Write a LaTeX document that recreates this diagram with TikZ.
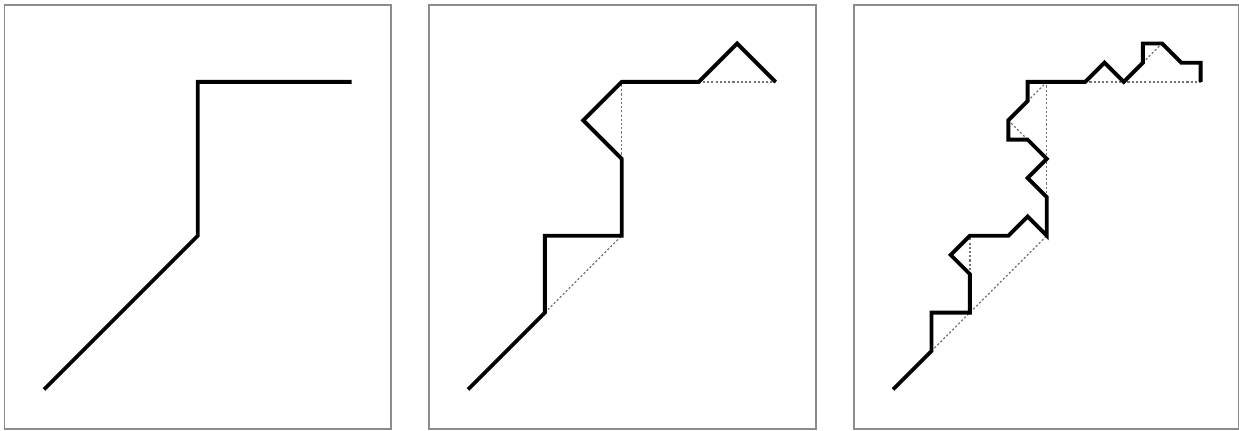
\documentclass[tikz,border=0pt]{standalone}
\begin{document}
\begin{tikzpicture}[
  frame/.style={draw=black!45,line width=0.55pt},
  curve/.style={line width=1.1pt},
  chord/.style={draw=black!55,line width=0.35pt,dash pattern=on 0.6pt off 0.6pt}]
\useasboundingbox (0,0) rectangle (12.39,4.31);
% frames
\draw[frame] (0.045,0.02) rectangle (3.91,4.26);
\draw[frame] (4.293,0.02) rectangle (8.16,4.26);
\draw[frame] (8.543,0.02) rectangle (12.385,4.26);
% stage 1
\begin{scope}[shift={(0.44,0.415)},scale=3.075]
\coordinate (A0) at (0,0);%
\coordinate (A1) at (0.5,0.5);%
\coordinate (A2) at (0.5,1);%
\coordinate (A3) at (1,1);%
\draw[curve] (A0) -- (A1) -- (A2) -- (A3);
\end{scope}
% stage 2
\begin{scope}[shift={(4.68,0.415)},scale=3.075]
\coordinate (B0) at (0,0);%
\coordinate (B1) at (0.25,0.25);%
\coordinate (B2) at (0.25,0.5);%
\coordinate (B3) at (0.5,0.5);%
\coordinate (B4) at (0.5,0.75);%
\coordinate (B5) at (0.375,0.875);%
\coordinate (B6) at (0.5,1);%
\coordinate (B7) at (0.75,1);%
\coordinate (B8) at (0.875,1.125);%
\coordinate (B9) at (1,1);%
% chords
\draw[chord] (B1) -- (B3);
\draw[chord] (B4) -- (B6);
\draw[chord] (B7) -- (B9);
% curve
\draw[curve] (B0) -- (B1) -- (B2) -- (B3) -- (B4) -- (B5) -- (B6)
  -- (B7) -- (B8) -- (B9);
\end{scope}
% stage 3
\begin{scope}[shift={(8.93,0.415)},scale=3.075]
\coordinate (C0)  at (0,0);%
\coordinate (C1)  at (0.125,0.125);%
\coordinate (C2)  at (0.125,0.25);%
\coordinate (C3)  at (0.25,0.25);%
\coordinate (C4)  at (0.25,0.375);%
\coordinate (C5)  at (0.1875,0.4375);%
\coordinate (C6)  at (0.25,0.5);%
\coordinate (C7)  at (0.375,0.5);%
\coordinate (C8)  at (0.4375,0.5625);%
\coordinate (C9)  at (0.5,0.5);%
\coordinate (C10) at (0.5,0.625);%
\coordinate (C11) at (0.4375,0.6875);%
\coordinate (C12) at (0.5,0.75);%
\coordinate (C13) at (0.4375,0.8125);%
\coordinate (C14) at (0.375,0.8125);%
\coordinate (C15) at (0.375,0.875);%
\coordinate (C16) at (0.4375,0.9375);%
\coordinate (C17) at (0.4375,1);%
\coordinate (C18) at (0.5,1);%
\coordinate (C19) at (0.625,1);%
\coordinate (C20) at (0.6875,1.0625);%
\coordinate (C21) at (0.75,1);%
\coordinate (C22) at (0.8125,1.0625);%
\coordinate (C23) at (0.8125,1.125);%
\coordinate (C24) at (0.875,1.125);%
\coordinate (C25) at (0.9375,1.0625);%
\coordinate (C26) at (1,1.0625);%
\coordinate (C27) at (1,1);%
% chords
\draw[chord] (C1)  -- (C9);
\draw[chord] (C4)  -- (C6);
\draw[chord] (C10) -- (C18);
\draw[chord] (C13) -- (C15);
\draw[chord] (C16) -- (C18);
\draw[chord] (C19) -- (C27);
\draw[chord] (C22) -- (C24);
% curve
\draw[curve] (C0) -- (C1) -- (C2) -- (C3) -- (C4) -- (C5) -- (C6)
  -- (C7) -- (C8) -- (C9) -- (C10) -- (C11) -- (C12) -- (C13)
  -- (C14) -- (C15) -- (C16) -- (C17) -- (C18) -- (C19) -- (C20)
  -- (C21) -- (C22) -- (C23) -- (C24) -- (C25) -- (C26) -- (C27);
\end{scope}
\end{tikzpicture}
\end{document}
